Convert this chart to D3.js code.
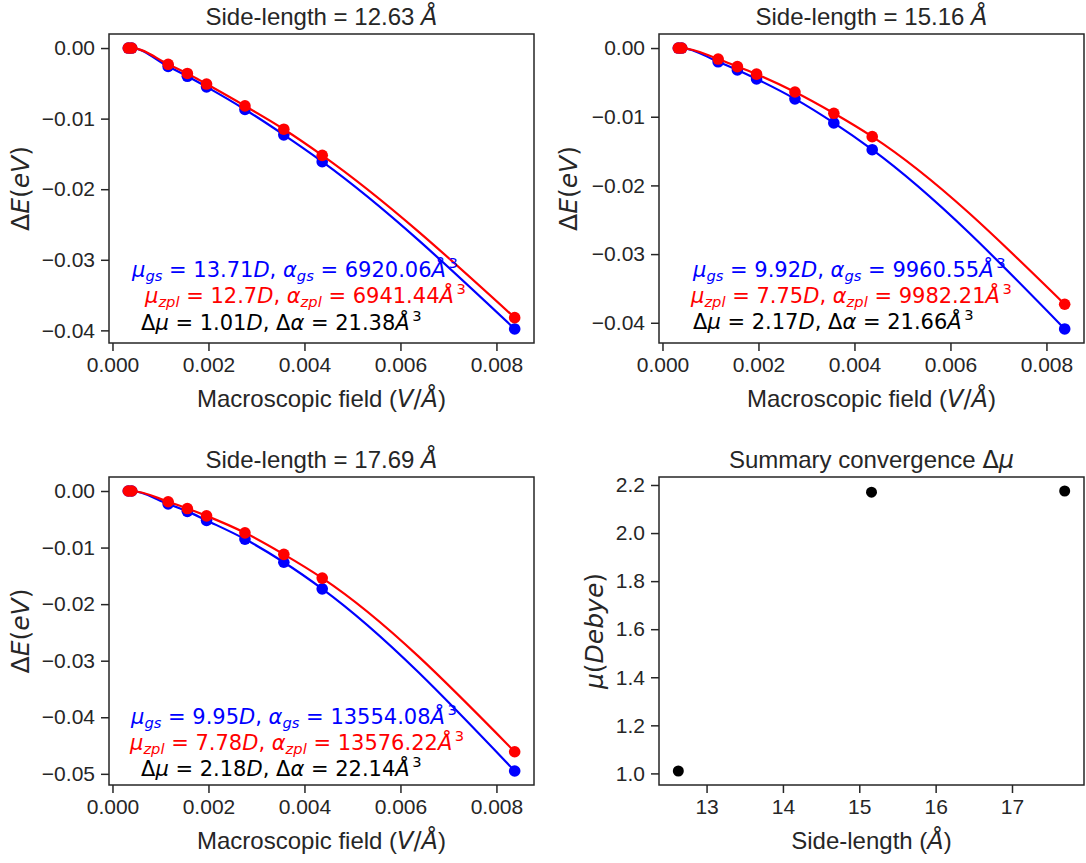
<!DOCTYPE html>
<html>
<head>
<meta charset="utf-8">
<script src="https://cdn.jsdelivr.net/npm/d3@7"></script>
<style>
  body { margin: 0; background: #fff; }
  svg { display: block; }
  text { white-space: pre; }
  .axis text { font-family: "Liberation Sans", Arial, sans-serif; font-size: 21px; fill: #262626; }
  .axis line { stroke: #262626; stroke-width: 1.5; }
</style>
</head>
<body>
<svg id="chart" width="1086" height="863"></svg>
<script>
// Macroscopic field (V/Å), same for the three energy panels
var fieldValues = [0.00033, 0.00040, 0.00116, 0.00156, 0.00196, 0.00276, 0.00357, 0.00437, 0.00838];

// energy shifts (eV), ground state (blue) and zpl (red)
var gs1263 = [0, 0, -0.0026, -0.0040, -0.0055, -0.0087, -0.0123, -0.0161, -0.0398];
var zpl1263 = [0, 0, -0.0023, -0.0036, -0.0051, -0.0082, -0.0115, -0.0152, -0.0382];
var gs1516 = [0, 0, -0.0020, -0.0032, -0.0045, -0.0074, -0.0109, -0.0148, -0.0409];
var zpl1516 = [0, 0, -0.0016, -0.0027, -0.0038, -0.0064, -0.0095, -0.0129, -0.0373];
var gs1769 = [0, 0, -0.0023, -0.0036, -0.0052, -0.0085, -0.0126, -0.0173, -0.0495];
var zpl1769 = [0, 0, -0.0019, -0.0031, -0.0044, -0.0074, -0.0112, -0.0154, -0.0461];

// fitted parameters printed inside each panel
var sideLabels = ["12.63", "15.16", "17.69"];
var muGs = [13.71, 9.92, 9.95];
var alphaGs = [6920.06, 9960.55, 13554.08];
var muZpl = [12.7, 7.75, 7.78];
var alphaZpl = [6941.44, 9982.21, 13576.22];
var deltaMu = [1.01, 2.17, 2.18];
var deltaAlpha = [21.38, 21.66, 22.14];

// summary panel
var sideLengths = [12.63, 15.16, 17.69];
var summaryMu = [1.01, 2.17, 2.175];

// tick values
var fieldTicks = [0, 0.002, 0.004, 0.006, 0.008];
var energyTicks = [0, -0.01, -0.02, -0.03, -0.04];
var energyTicksDeep = [0, -0.01, -0.02, -0.03, -0.04, -0.05];
var sideTicks = [13, 14, 15, 16, 17];
var muTicks = [1.0, 1.2, 1.4, 1.6, 1.8, 2.0, 2.2];

var ARIAL = '"Liberation Sans", Arial, sans-serif';
var DEJAVU = '"DejaVu Sans", sans-serif';
var INK = "#262626";

var svg = d3.select("#chart");
svg.append("rect").attr("width", 1086).attr("height", 863).attr("fill", "#fff");

// matplotlib-ish autoscale: data extent plus 5% each side
function padded(vals) {
    var e = d3.extent(vals);
    var p = (e[1] - e[0]) * 0.05;
    return [e[0] - p, e[1] + p];
}

// tiny mathtext: r = Arial, m = DejaVu upright, i = DejaVu italic, sub/sup
function mathText(g, x, y, parts, size, color, anchor) {
    var t = g.append("text")
        .attr("x", x).attr("y", y)
        .attr("font-size", size)
        .attr("fill", color)
        .attr("text-anchor", anchor || "start");
    var shift = 0;
    parts.forEach(function(p) {
        var kind = p[1];
        var target = 0;
        if (kind === "sub") target = 0.2 * size;
        if (kind === "sup") target = -0.42 * size;
        var s = t.append("tspan").text(p[0])
            .attr("dy", target - shift)
            .attr("font-family", kind === "r" ? ARIAL : DEJAVU);
        shift = target;
        if (kind === "i" || kind === "sub") s.attr("font-style", "italic");
        if (kind === "sub" || kind === "sup") s.attr("font-size", size * 0.7);
        if (kind === "sup") s.attr("dx", size * 0.12);
    });
    return t;
}

var cols = [109, 659];
var rows = [34, 477];
var axW = 425;
var axHs = [309, 308];

function makePanel(left, top, h, xDomain, yDomain, xTicks, yTicks, xFmt, yFmt) {
    var g = svg.append("g").attr("transform", "translate(" + left + "," + top + ")");
    var x = d3.scaleLinear().domain(xDomain).range([0, axW]);
    var y = d3.scaleLinear().domain(yDomain).range([h, 0]);

    g.append("g").attr("class", "axis")
        .attr("transform", "translate(0," + h + ")")
        .call(d3.axisBottom(x).tickValues(xTicks).tickFormat(xFmt).tickSize(8).tickPadding(6))
        .call(function(a) { a.select(".domain").remove(); });

    g.append("g").attr("class", "axis")
        .call(d3.axisLeft(y).tickValues(yTicks).tickFormat(yFmt).tickSize(8).tickPadding(6))
        .call(function(a) { a.select(".domain").remove(); });

    return {g: g, x: x, y: y, h: h};
}

function frame(p) {
    p.g.append("rect")
        .attr("width", axW).attr("height", p.h)
        .attr("fill", "none").attr("stroke", INK).attr("stroke-width", 1.5);
}

function series(p, ys, color) {
    var pts = fieldValues.map(function(f, i) { return [f, ys[i]]; });
    p.g.append("g").selectAll("circle")
        .data(pts).join("circle")
        .attr("cx", function(d) { return p.x(d[0]); })
        .attr("cy", function(d) { return p.y(d[1]); })
        .attr("r", 5.8)
        .attr("fill", color);
    p.g.append("path")
        .datum(pts)
        .attr("fill", "none")
        .attr("stroke", color)
        .attr("stroke-width", 2.2)
        .attr("d", d3.line()
            .x(function(d) { return p.x(d[0]); })
            .y(function(d) { return p.y(d[1]); })
            .curve(d3.curveMonotoneX));
}

var energySets = [
    {gs: gs1263, zpl: zpl1263, ticks: energyTicks, col: 0, row: 0,
     notes: [[23, 243], [36, 269], [32, 296]]},
    {gs: gs1516, zpl: zpl1516, ticks: energyTicks, col: 1, row: 0,
     notes: [[34, 243], [32, 269], [34, 295]]},
    {gs: gs1769, zpl: zpl1769, ticks: energyTicksDeep, col: 0, row: 1,
     notes: [[22, 247], [21, 273], [32, 299]]}
];

energySets.forEach(function(s, k) {
    var h = axHs[s.row];
    var p = makePanel(cols[s.col], rows[s.row], h,
        padded(fieldValues), padded(s.gs.concat(s.zpl)),
        fieldTicks, s.ticks, d3.format(".3f"), d3.format(".2f"));

    series(p, s.gs, "#0000ff");
    series(p, s.zpl, "#ff0000");
    frame(p);

    // fit results
    mathText(p.g, s.notes[0][0], s.notes[0][1], [
        ["μ", "i"], ["gs", "sub"], [" = " + muGs[k], "m"], ["D", "i"], [", ", "m"],
        ["α", "i"], ["gs", "sub"], [" = " + alphaGs[k], "m"], ["Å", "i"], ["3", "sup"]
    ], 21, "#0000ff");
    mathText(p.g, s.notes[1][0], s.notes[1][1], [
        ["μ", "i"], ["zpl", "sub"], [" = " + muZpl[k], "m"], ["D", "i"], [", ", "m"],
        ["α", "i"], ["zpl", "sub"], [" = " + alphaZpl[k], "m"], ["Å", "i"], ["3", "sup"]
    ], 21, "#ff0000");
    mathText(p.g, s.notes[2][0], s.notes[2][1], [
        ["Δ", "m"], ["μ", "i"], [" = " + deltaMu[k], "m"], ["D", "i"], [", ", "m"],
        ["Δ", "m"], ["α", "i"], [" = " + deltaAlpha[k], "m"], ["Å", "i"], ["3", "sup"]
    ], 21, "#000");

    // title + labels
    mathText(p.g, axW / 2, -9, [["Side-length = " + sideLabels[k] + " ", "r"], ["Å", "i"]], 24, INK, "middle");
    mathText(p.g, axW / 2, h + 64, [["Macroscopic field (", "r"], ["V", "i"], ["/", "m"], ["Å", "i"], [")", "r"]], 24, INK, "middle");
    mathText(p.g.append("g").attr("transform", "translate(" + (s.col ? -82 : -80) + "," + (h / 2) + ") rotate(-90)"),
        0, 0, [["Δ", "m"], ["E", "i"], ["(", "m"], ["eV", "i"], [")", "m"]], 25, INK, "middle");
});

// summary convergence of Δμ
var sp = makePanel(cols[1], rows[1], axHs[1], padded(sideLengths), padded(summaryMu),
    sideTicks, muTicks, d3.format("d"), d3.format(".1f"));

sp.g.append("g").selectAll("circle")
    .data(sideLengths.map(function(L, i) { return [L, summaryMu[i]]; }))
    .join("circle")
    .attr("cx", function(d) { return sp.x(d[0]); })
    .attr("cy", function(d) { return sp.y(d[1]); })
    .attr("r", 5.5)
    .attr("fill", "#000");
frame(sp);

mathText(sp.g, axW / 2, -9, [["Summary convergence ", "r"], ["Δ", "m"], ["μ", "i"]], 24, INK, "middle");
mathText(sp.g, axW / 2, axHs[1] + 64, [["Side-length (", "r"], ["Å", "i"], [")", "r"]], 24, INK, "middle");
mathText(sp.g.append("g").attr("transform", "translate(-56," + (axHs[1] / 2) + ") rotate(-90)"),
    0, 0, [["μ", "i"], ["(", "m"], ["Debye", "i"], [")", "m"]], 25, INK, "middle");
</script>
</body>
</html>
